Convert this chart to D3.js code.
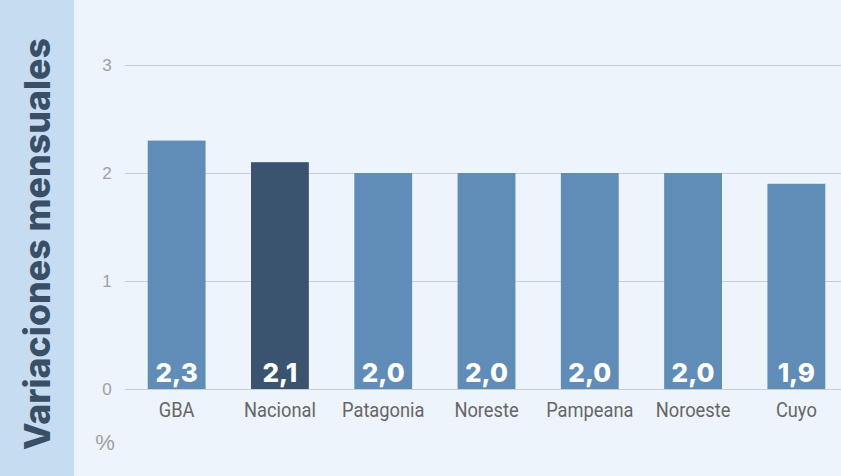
<!DOCTYPE html>
<html>
<head>
<meta charset="utf-8">
<script src="https://cdnjs.cloudflare.com/ajax/libs/d3/7.8.5/d3.min.js"></script>
<style>
  html, body { margin: 0; padding: 0; background: #edf4fb; }
  svg { display: block; }
</style>
</head>
<body>
<div id="chart"></div>
<script>
// data
const regions = ['GBA', 'Nacional', 'Patagonia', 'Noreste', 'Pampeana', 'Noroeste', 'Cuyo'];
const values = [2.3, 2.1, 2.0, 2.0, 2.0, 2.0, 1.9];
const highlight = ['Nacional'];
const yTicks = [0, 1, 2, 3];
const title = 'Variaciones mensuales';
const unit = '%';

const W = 841, H = 476;
const fmt = v => d3.format('.1f')(v).replace('.', ',');

const svg = d3.select('#chart').append('svg')
  .attr('width', W)
  .attr('height', H);

// background + left band
svg.append('rect').attr('width', W).attr('height', H).attr('fill', '#edf4fb');
svg.append('rect').attr('width', 74).attr('height', H).attr('fill', '#c6dcf1');

svg.append('text')
  .attr('transform', 'translate(50,450) rotate(-90)')
  .attr('font-family', "Inter, 'Open Sans', sans-serif")
  .attr('font-weight', 800)
  .attr('font-size', 36)
  .attr('textLength', 412)
  .attr('lengthAdjust', 'spacingAndGlyphs')
  .attr('fill', '#394f66')
  .text(title);

const x = d3.scaleBand()
  .domain(regions)
  .range([125, 848])
  .paddingInner(0.44)
  .paddingOuter(0.22);

const y = d3.scaleLinear()
  .domain([0, 3])
  .range([389, 65]);

// gridlines / y axis
const yAxis = svg.append('g')
  .attr('transform', 'translate(125,0)')
  .call(d3.axisRight(y).tickValues(yTicks).tickSize(W - 125).tickFormat(d => d));
yAxis.select('.domain').remove();
yAxis.selectAll('.tick line').attr('stroke', '#c9ced3').attr('stroke-width', 1.2);
yAxis.selectAll('.tick text')
  .attr('x', -18)
  .attr('text-anchor', 'middle')
  .attr('fill', '#a0a0a0')
  .attr('font-family', "'Liberation Sans', Arial, sans-serif")
  .attr('font-size', 17);

// bars
svg.selectAll('.bar')
  .data(regions)
  .enter()
  .append('rect')
  .attr('class', 'bar')
  .attr('x', d => x(d))
  .attr('y', (d, i) => y(values[i]))
  .attr('width', x.bandwidth())
  .attr('height', (d, i) => y(0) - y(values[i]))
  .attr('fill', d => highlight.includes(d) ? '#3a546f' : '#5f8db7');

// value labels inside bars
svg.selectAll('.val')
  .data(regions)
  .enter()
  .append('text')
  .attr('class', 'val')
  .attr('x', d => x(d) + x.bandwidth() / 2)
  .attr('y', y(0) - 7)
  .attr('text-anchor', 'middle')
  .attr('fill', '#ffffff')
  .attr('font-family', "Inter, 'Open Sans', sans-serif")
  .attr('font-weight', 800)
  .attr('font-size', 26)
  .text((d, i) => fmt(values[i]));

// category labels (condensed look)
const xAxis = svg.append('g')
  .attr('transform', `translate(0,${y(0)})`)
  .call(d3.axisBottom(x).tickSize(0).tickPadding(13));
xAxis.select('.domain').remove();
xAxis.selectAll('.tick text')
  .attr('transform', 'scale(0.87,1)')
  .attr('fill', '#666666')
  .attr('font-family', "Roboto, sans-serif")
  .attr('font-size', 21);

svg.append('text')
  .attr('x', 105)
  .attr('y', 450)
  .attr('text-anchor', 'middle')
  .attr('fill', '#a0a0a0')
  .attr('font-family', "'Liberation Sans', Arial, sans-serif")
  .attr('font-size', 22)
  .text(unit);
</script>
</body>
</html>
